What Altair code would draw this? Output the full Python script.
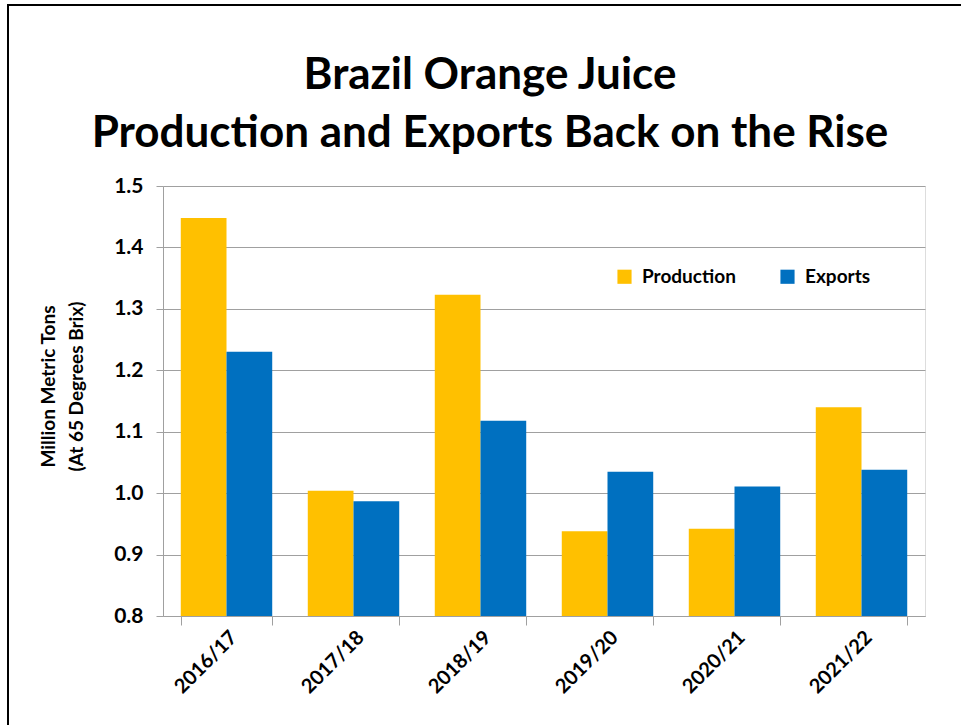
import altair as alt
import pandas as pd

seasons = ["2016/17", "2017/18", "2018/19", "2019/20", "2020/21", "2021/22"]
production = [1.448, 1.004, 1.323, 0.938, 0.942, 1.140]
exports = [1.230, 0.987, 1.118, 1.035, 1.011, 1.038]
series = ["Production", "Exports"]
colors = ["#FFC000", "#0070C0"]
y_ticks = [0.8, 0.9, 1.0, 1.1, 1.2, 1.3, 1.4, 1.5]
title_lines = ["Brazil Orange Juice", "Production and Exports Back on the Rise"]

rows = []
for i, s in enumerate(seasons):
    rows.append({"Season": s, "Series": "Production", "Value": production[i]})
    rows.append({"Season": s, "Series": "Exports", "Value": exports[i]})
df = pd.DataFrame(rows)

FONT = "Lato"
W, H = 762, 430

bars = alt.Chart(df).mark_bar().encode(
    x=alt.X("Season:N", sort=seasons,
            scale=alt.Scale(paddingInner=0.28, paddingOuter=0.14),
            axis=alt.Axis(title=None, labelAngle=315, labelFontSize=20, labelFontWeight="bold",
                          labelColor="black", labelFont=FONT, tickBand="extent",
                          tickColor="#A0A0A0", tickSize=9, domainColor="#A0A0A0",
                          labelPadding=2, grid=False)),
    xOffset=alt.XOffset("Series:N", sort=series),
    y=alt.Y("Value:Q", scale=alt.Scale(domain=[0.8, 1.5], nice=False, zero=False),
            axis=alt.Axis(values=y_ticks, format=".1f", title=["Million Metric Tons", "(At 65 Degrees Brix)"],
                          titleFont=FONT, titleFontSize=19, titleFontWeight="bold", titleColor="black",
                          titlePadding=27, titleLineHeight=28, titleY=200,
                          labelFont=FONT, labelFontSize=21, labelFontWeight="bold", labelColor="black",
                          labelPadding=13, tickColor="#A0A0A0", tickSize=7, domainColor="#A0A0A0",
                          gridColor="#A0A0A0", gridWidth=1)),
    y2=alt.Y2(datum=0.8),
    color=alt.Color("Series:N", sort=series, scale=alt.Scale(domain=series, range=colors),
                    legend=alt.Legend(title=None, orient="none", legendX=452, legendY=81,
                                      direction="horizontal", symbolType="square", symbolSize=200,
                                      symbolStrokeWidth=0, labelFont=FONT, labelFontSize=19,
                                      labelFontWeight="bold", labelColor="black", columnPadding=42,
                                      labelOffset=8)),
)

frame = alt.Chart(df).mark_rect(fill=None, stroke="black", strokeWidth=2).encode(
    x=alt.value(-155), x2=alt.value(W + 200), y=alt.value(-181), y2=alt.value(H + 200)
)

t1 = alt.Chart(pd.DataFrame({"t": [title_lines[0]]})).mark_text(
    font=FONT, fontSize=44, fontWeight="bold", color="black", align="center", baseline="alphabetic"
).encode(text="t:N", x=alt.value(327), y=alt.value(-97))

t2 = alt.Chart(pd.DataFrame({"t": [title_lines[1]]})).mark_text(
    font=FONT, fontSize=44, fontWeight="bold", color="black", align="center", baseline="alphabetic"
).encode(text="t:N", x=alt.value(327), y=alt.value(-39))

chart = alt.layer(frame, bars, t1, t2).properties(
    width=W, height=H,
    autosize=alt.AutoSizeParams(type="none"),
    padding={"left": 163, "top": 186, "right": 36, "bottom": 109},
).configure_view(stroke=None).configure(background="white")

chart.save("out.html", embed_options={"renderer": "svg", "actions": False})
